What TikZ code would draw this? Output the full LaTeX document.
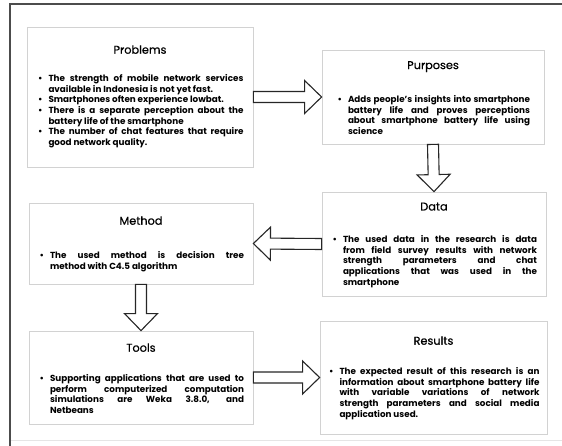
\documentclass[tikz,border=0pt]{standalone}
\usepackage{fontspec}
\setmainfont{Poppins}
\usetikzlibrary{positioning,calc}
\tikzset{
  box/.style={draw=gray!35, line width=0.8pt, fill=white, inner sep=0pt},
  head/.style={font=\fontsize{11.3}{14}\selectfont\addfontfeatures{FakeBold=0.6}, inner sep=0pt},
  body/.style={font=\fontsize{8.8}{10.7}\selectfont\bfseries, inner sep=0pt,
    text width=#1, align=justify, anchor=north},
  hollow/.style={draw=black!85, line width=1.1pt, fill=white, line join=miter},
}
\newenvironment{points}{\begin{list}{\textbullet}{%
  \setlength\leftmargin{12pt}\setlength\labelsep{6pt}\setlength\labelwidth{6pt}%
  \setlength\itemsep{0pt}\setlength\parsep{0pt}\setlength\topsep{0pt}%
  \setlength\partopsep{0pt}}\sloppy\hyphenpenalty=10000}{\end{list}}
\newcommand\blockarrow[2]{
  \coordinate (arrfrom) at (#1);
  \coordinate (arrto) at (#2);
  \coordinate (arrhead) at ($(arrto)!17pt!(arrfrom)$);
  \draw[hollow] ($(arrfrom)!5.5pt!90:(arrto)$) -- ($(arrhead)!5.5pt!90:(arrto)$)
    -- ($(arrhead)!16.5pt!90:(arrto)$) -- (arrto) -- ($(arrhead)!16.5pt!-90:(arrto)$)
    -- ($(arrhead)!5.5pt!-90:(arrto)$) -- ($(arrfrom)!5.5pt!-90:(arrto)$) -- cycle;
}

\begin{document}
\begin{tikzpicture}[x=1pt,y=-1pt]
  \useasboundingbox (0,0) rectangle (562,446);
  % outer frame
  \draw[gray!20, line width=0.8pt] (10,440) -- (562,440);
  \draw[black!70, line width=2pt] (562,4) -- (10,4) -- (10,446);

  % boxes
  \node[box, minimum width=226pt, minimum height=140pt] (prob) at (140,97) {};
  \node[box, minimum width=222pt, minimum height=94pt] (purp) at (433,97) {};
  \node[box, minimum width=224pt, minimum height=104pt] (data) at (434,244) {};
  \node[box, minimum width=224pt, minimum height=81pt] (meth) at (141,243.5) {};
  \node[box, minimum width=224pt, minimum height=93pt] (tools) at (141,377.5) {};
  \node[box, minimum width=227pt, minimum height=113pt] (res) at (433.5,377.5) {};

  % titles
  \node[head] (probh) at ([yshift=-23pt]prob.north) {Problems};
  \node[head] (purph) at ([yshift=-17pt]purp.north) {Purposes};
  \node[head] (datah) at ([yshift=-15pt]data.north) {Data};
  \node[head] (methh) at ([yshift=-18pt]meth.north) {Method};
  \node[head] (toolsh) at ([yshift=-17pt]tools.north) {Tools};
  \node[head] (resh) at ([yshift=-20pt]res.north) {Results};

  % texts
  \node[body=207pt] (probt) at ([yshift=-21pt]probh.center) {\begin{points}
    \item The strength of mobile network services\linebreak available in Indonesia is not yet fast.
    \item Smartphones often experience lowbat.
    \item There is a separate perception about the\linebreak battery life of the smartphone
    \item The number of chat features that require\linebreak good network quality.
  \end{points}};
  \node[body=194pt] (purpt) at ([yshift=-25pt]purph.center) {\begin{points}
    \item Adds people's insights into smartphone\linebreak battery life and proves perceptions\linebreak
      about smartphone battery life using\linebreak science
  \end{points}};
  \node[body=206pt] (datat) at ([yshift=-25pt]datah.center) {\begin{points}
    \item The used data in the research is data\linebreak from field survey results with network\linebreak
      strength parameters and chat\linebreak applications that was used in the\linebreak smartphone
  \end{points}};
  \node[body=206pt] (metht) at ([yshift=-27pt]methh.center) {\begin{points}
    \item The used method is decision tree\linebreak method with C4.5 algorithm
  \end{points}};
  \node[body=206pt] (toolst) at ([yshift=-23pt]toolsh.center) {\begin{points}
    \item Supporting applications that are used to\linebreak perform computerized computation\linebreak
      simulations are Weka 3.8.0, and\linebreak Netbeans
  \end{points}};
  \node[body=212pt] (rest) at ([yshift=-23pt]resh.center) {\begin{points}
    \item The expected result of this research is an\linebreak information about smartphone battery life\linebreak
      with variable variations of network\linebreak strength parameters and social media\linebreak
      application used.
  \end{points}};

  % arrows
  \blockarrow{prob.east}{purp.west}
  \blockarrow{purp.south}{data.north}
  \blockarrow{data.west}{meth.east}
  \blockarrow{meth.south}{tools.north}
  \blockarrow{tools.east}{res.west}
\end{tikzpicture}
\end{document}
